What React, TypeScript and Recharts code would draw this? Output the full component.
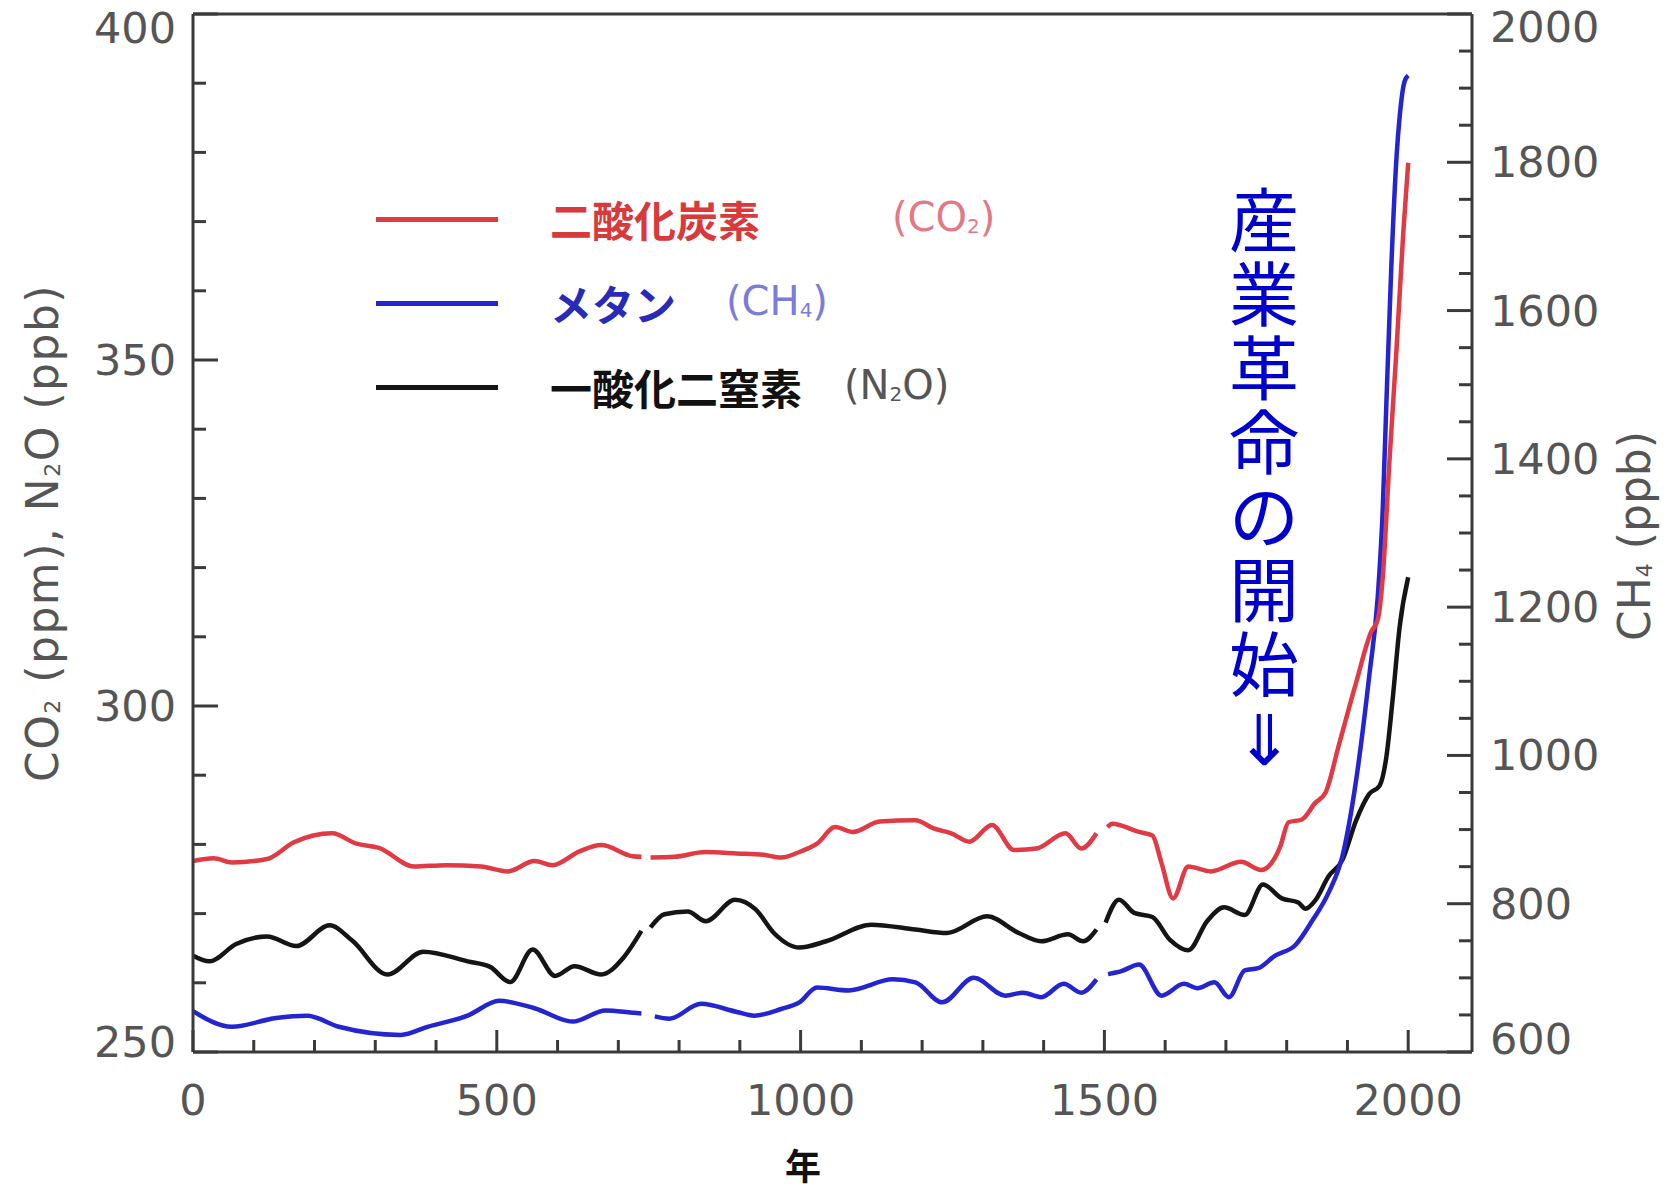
import React from "react";
import { LineChart, Line, XAxis, YAxis } from "recharts";

// [year, value] — null marks a break in the record
const co2: [number, number | null][] = [
  [0, 277.6], [34, 278], [64, 277.4], [122, 277.9], [166, 280.3], [229, 281.6],
  [269, 280.1], [306, 279.5], [364, 276.8], [416, 277], [474, 276.8], [518, 276.1],
  [562, 277.6], [592, 277], [636, 279], [672, 279.9], [723, 278.3], [738, 278.2],
  [745, null],
  [753, 278.1], [792, 278.2], [843, 278.9], [895, 278.7], [939, 278.5], [968, 278.1],
  [998, 278.9], [1027, 280.1], [1057, 282.5], [1086, 281.8], [1130, 283.3], [1189, 283.5],
  [1219, 282.3], [1248, 281.6], [1278, 280.4], [1315, 282.8], [1351, 279.2], [1388, 279.4],
  [1436, 281.6], [1462, 279.4], [1487, 281.6],
  [1495, null],
  [1505, 282.5], [1513, 283], [1557, 281.8], [1579, 281.3], [1594, 277.3], [1613, 272.2],
  [1638, 276.8], [1675, 276.1], [1725, 277.5], [1758, 276.3], [1789, 279.6], [1803, 283.2],
  [1825, 283.6], [1847, 286], [1864, 287.5], [1886, 294.4], [1914, 303.3], [1939, 310.7],
  [1950, 312.5], [1958, 318.5], [1969, 335.2], [1981, 351.9], [1992, 368.6], [2000, 378.5],
];

const ch4: [number, number | null][] = [
  [0, 655], [64, 634], [137, 646], [188, 649], [240, 634], [342, 623], [386, 634],
  [452, 649], [504, 669], [562, 659], [625, 641], [679, 656], [723, 653], [738, 652],
  [745, null],
  [760, 648], [784, 645], [836, 665], [895, 654], [924, 649], [968, 658], [998, 667],
  [1027, 687], [1079, 683], [1152, 698], [1189, 694], [1233, 667], [1285, 700], [1337, 676],
  [1366, 680], [1396, 674], [1433, 692], [1462, 680], [1487, 698],
  [1495, null],
  [1506, 705], [1528, 709], [1557, 718], [1594, 676], [1631, 692], [1653, 686], [1681, 694],
  [1705, 674], [1731, 710], [1753, 713], [1781, 730], [1814, 744], [1842, 777], [1869, 815],
  [1892, 865], [1914, 965], [1936, 1108], [1950, 1215], [1958, 1330], [1964, 1473],
  [1972, 1655], [1981, 1810], [1986, 1862], [1994, 1909], [2000, 1917],
];

const n2o: [number, number | null][] = [
  [0, 263.9], [27, 263.1], [71, 265.6], [122, 266.7], [170, 265.3], [225, 268.3],
  [262, 266.1], [320, 261.2], [379, 264.5], [452, 263.1], [489, 262.3], [522, 260.1],
  [559, 264.8], [596, 261], [628, 262.4], [672, 261.2], [709, 263.7], [738, 267.5],
  [745, null],
  [753, 268], [776, 269.9], [814, 270.3], [844, 268.9], [892, 272], [926, 270.6],
  [956, 267.2], [998, 265.1], [1042, 266], [1116, 268.4], [1189, 267.7], [1241, 267.2],
  [1307, 269.6], [1359, 267.2], [1396, 266], [1440, 267], [1465, 266], [1487, 267.7],
  [1495, null],
  [1502, 268.7], [1524, 272], [1549, 270.1], [1579, 269.5], [1608, 266.2], [1638, 264.7],
  [1669, 268.9], [1697, 270.9], [1731, 269.8], [1761, 274.2], [1792, 272.2], [1819, 271.6],
  [1831, 270.7], [1847, 271.9], [1869, 275.4], [1892, 277.8], [1914, 283.4], [1936, 287.3],
  [1953, 288.5], [1964, 292.6], [1975, 301.5], [1986, 311.5], [2000, 318.6],
];

const yearTicks = [0, 100, 200, 300, 400, 500, 600, 700, 800, 900, 1000, 1100, 1200, 1300, 1400, 1500, 1600, 1700, 1800, 1900, 2000];
const leftTicks = [250, 260, 270, 280, 290, 300, 310, 320, 330, 340, 350, 360, 370, 380, 390, 400];
const rightTicks = [600, 650, 700, 750, 800, 850, 900, 950, 1000, 1050, 1100, 1150, 1200, 1250, 1300, 1350, 1400, 1450, 1500, 1550, 1600, 1650, 1700, 1750, 1800, 1850, 1900, 1950, 2000];

const annotation = "産業革命の開始⇓";

const toRows = (pts: [number, number | null][]) => pts.map(([year, v]) => ({ year, v }));

const AXIS = "#3a3a3a";
const LABEL = "#555";
const NUM_FONT = "'DejaVu Sans', sans-serif";
const JP_FONT = "'Noto Sans CJK JP', sans-serif";

// eslint-disable-next-line @typescript-eslint/no-explicit-any
const BottomTick = ({ x, y, payload }: any) => {
  const major = payload.value % 500 === 0;
  return (
    <g>
      <line x1={x} y1={y} x2={x} y2={y - (major ? 22 : 12)} stroke={AXIS} strokeWidth={3} />
      {major && (
        <text x={x} y={y + 48} textAnchor="middle" dominantBaseline="central" fill={LABEL} fontSize={43} fontFamily={NUM_FONT}>
          {payload.value}
        </text>
      )}
    </g>
  );
};

// eslint-disable-next-line @typescript-eslint/no-explicit-any
const TopTick = ({ x, y, payload }: any) => {
  const major = payload.value % 500 === 0;
  return <line x1={x} y1={y} x2={x} y2={y + (major ? 22 : 12)} stroke={AXIS} strokeWidth={3} />;
};

// eslint-disable-next-line @typescript-eslint/no-explicit-any
const LeftTick = ({ x, y, payload }: any) => {
  const major = payload.value % 50 === 0;
  const dy = payload.value === 400 ? 14 : payload.value === 250 ? -10 : 0;
  return (
    <g>
      <line x1={x} y1={y} x2={x + (major ? 25 : 13)} y2={y} stroke={AXIS} strokeWidth={3} />
      {major && (
        <text x={x - 17} y={y + dy} textAnchor="end" dominantBaseline="central" fill={LABEL} fontSize={43} fontFamily={NUM_FONT}>
          {payload.value}
        </text>
      )}
    </g>
  );
};

// eslint-disable-next-line @typescript-eslint/no-explicit-any
const RightTick = ({ x, y, payload }: any) => {
  const major = payload.value % 200 === 0;
  const dy = payload.value === 2000 ? 13 : payload.value === 600 ? -13 : 0;
  return (
    <g>
      <line x1={x} y1={y} x2={x - (major ? 25 : 13)} y2={y} stroke={AXIS} strokeWidth={3} />
      {major && (
        <text x={x + 18} y={y + dy} textAnchor="start" dominantBaseline="central" fill={LABEL} fontSize={43} fontFamily={NUM_FONT}>
          {payload.value}
        </text>
      )}
    </g>
  );
};

const Sub = ({ children }: { children: React.ReactNode }) => (
  <span style={{ fontSize: "0.5em", verticalAlign: "-0.1em" }}>{children}</span>
);

const legendRows = [
  { color: "#e03a44", y: 219, name: "二酸化炭素", nameColor: "#d83a3c", formula: <>(CO<Sub>2</Sub>)</>, fx: 892, fColor: "#e27a86" },
  { color: "#2424d0", y: 303, name: "メタン", nameColor: "#2a2ab8", formula: <>(CH<Sub>4</Sub>)</>, fx: 726, fColor: "#7c7cd8" },
  { color: "#151515", y: 387, name: "一酸化二窒素", nameColor: "#111", formula: <>(N<Sub>2</Sub>O)</>, fx: 844, fColor: "#555" },
];

export default function App() {
  return (
    <div style={{ position: "relative", width: 1675, height: 1192, background: "#fff", overflow: "hidden" }}>
      <style>{"body{margin:0}"}</style>
      <LineChart width={1675} height={1192} margin={{ top: 13, right: 53, bottom: 60, left: 73 }}>
        <XAxis
          dataKey="year"
          type="number"
          domain={[0, 2105]}
          ticks={yearTicks}
          interval={0}
          tickLine={false}
          tickSize={0}
          tickMargin={0}
          tick={<BottomTick />}
          axisLine={{ stroke: AXIS, strokeWidth: 3 }}
          height={80}
          allowDataOverflow
        />
        <XAxis
          xAxisId="top"
          orientation="top"
          type="number"
          domain={[0, 2105]}
          ticks={yearTicks}
          interval={0}
          tickLine={false}
          tickSize={0}
          tickMargin={0}
          tick={<TopTick />}
          axisLine={{ stroke: AXIS, strokeWidth: 3 }}
          height={1}
          allowDataOverflow
        />
        <YAxis
          yAxisId="left"
          type="number"
          domain={[250, 400]}
          ticks={leftTicks}
          interval={0}
          tickLine={false}
          tickSize={0}
          tickMargin={0}
          tick={<LeftTick />}
          axisLine={{ stroke: AXIS, strokeWidth: 3 }}
          width={120}
          allowDataOverflow
        />
        <YAxis
          yAxisId="right"
          orientation="right"
          type="number"
          domain={[600, 2000]}
          ticks={rightTicks}
          interval={0}
          tickLine={false}
          tickSize={0}
          tickMargin={0}
          tick={<RightTick />}
          axisLine={{ stroke: AXIS, strokeWidth: 3 }}
          width={150}
          allowDataOverflow
        />
        <Line yAxisId="left" data={toRows(n2o)} dataKey="v" type="monotone" stroke="#151515" strokeWidth={4.5} dot={false} connectNulls={false} isAnimationActive={false} />
        <Line yAxisId="right" data={toRows(ch4)} dataKey="v" type="monotone" stroke="#2424d0" strokeWidth={4.5} dot={false} connectNulls={false} isAnimationActive={false} />
        <Line yAxisId="left" data={toRows(co2)} dataKey="v" type="monotone" stroke="#e03a44" strokeWidth={4.5} dot={false} connectNulls={false} isAnimationActive={false} />
      </LineChart>

      {/* legend */}
      {legendRows.map((r) => (
        <React.Fragment key={r.name}>
          <div style={{ position: "absolute", left: 376, top: r.y - 2, width: 122, height: 4.5, background: r.color }} />
          <div style={{ position: "absolute", left: 550, top: r.y, transform: "translateY(-50%)", fontFamily: JP_FONT, fontWeight: 700, fontSize: 42, color: r.nameColor, whiteSpace: "nowrap", lineHeight: 1 }}>
            {r.name}
          </div>
          <div style={{ position: "absolute", left: r.fx, top: r.y - 2, transform: "translateY(-50%)", fontFamily: NUM_FONT, fontSize: 40, color: r.fColor, whiteSpace: "nowrap", lineHeight: 1 }}>
            {r.formula}
          </div>
        </React.Fragment>
      ))}

      {/* axis titles */}
      <div style={{ position: "absolute", left: 43, top: 533, transform: "translate(-50%, -50%) rotate(-90deg)", fontFamily: NUM_FONT, fontSize: 44, letterSpacing: 1.5, color: LABEL, whiteSpace: "nowrap", lineHeight: 1 }}>
        CO<Sub>2</Sub> (ppm), N<Sub>2</Sub>O (ppb)
      </div>
      <div style={{ position: "absolute", left: 1635, top: 536, transform: "translate(-50%, -50%) rotate(-90deg)", fontFamily: NUM_FONT, fontSize: 44, color: LABEL, whiteSpace: "nowrap", lineHeight: 1 }}>
        CH<Sub>4</Sub> (ppb)
      </div>
      <div style={{ position: "absolute", left: 803, top: 1164, transform: "translate(-50%, -50%)", fontFamily: JP_FONT, fontWeight: 700, fontSize: 36, color: "#111", lineHeight: 1 }}>
        年
      </div>

      {/* vertical annotation: one text, wrapped one character per line */}
      <div style={{ position: "absolute", left: 1228, top: 180, width: 72, textAlign: "center", wordBreak: "break-all", fontFamily: JP_FONT, fontSize: 70, lineHeight: "74px", color: "#0000cc" }}>
        {annotation}
      </div>
    </div>
  );
}
